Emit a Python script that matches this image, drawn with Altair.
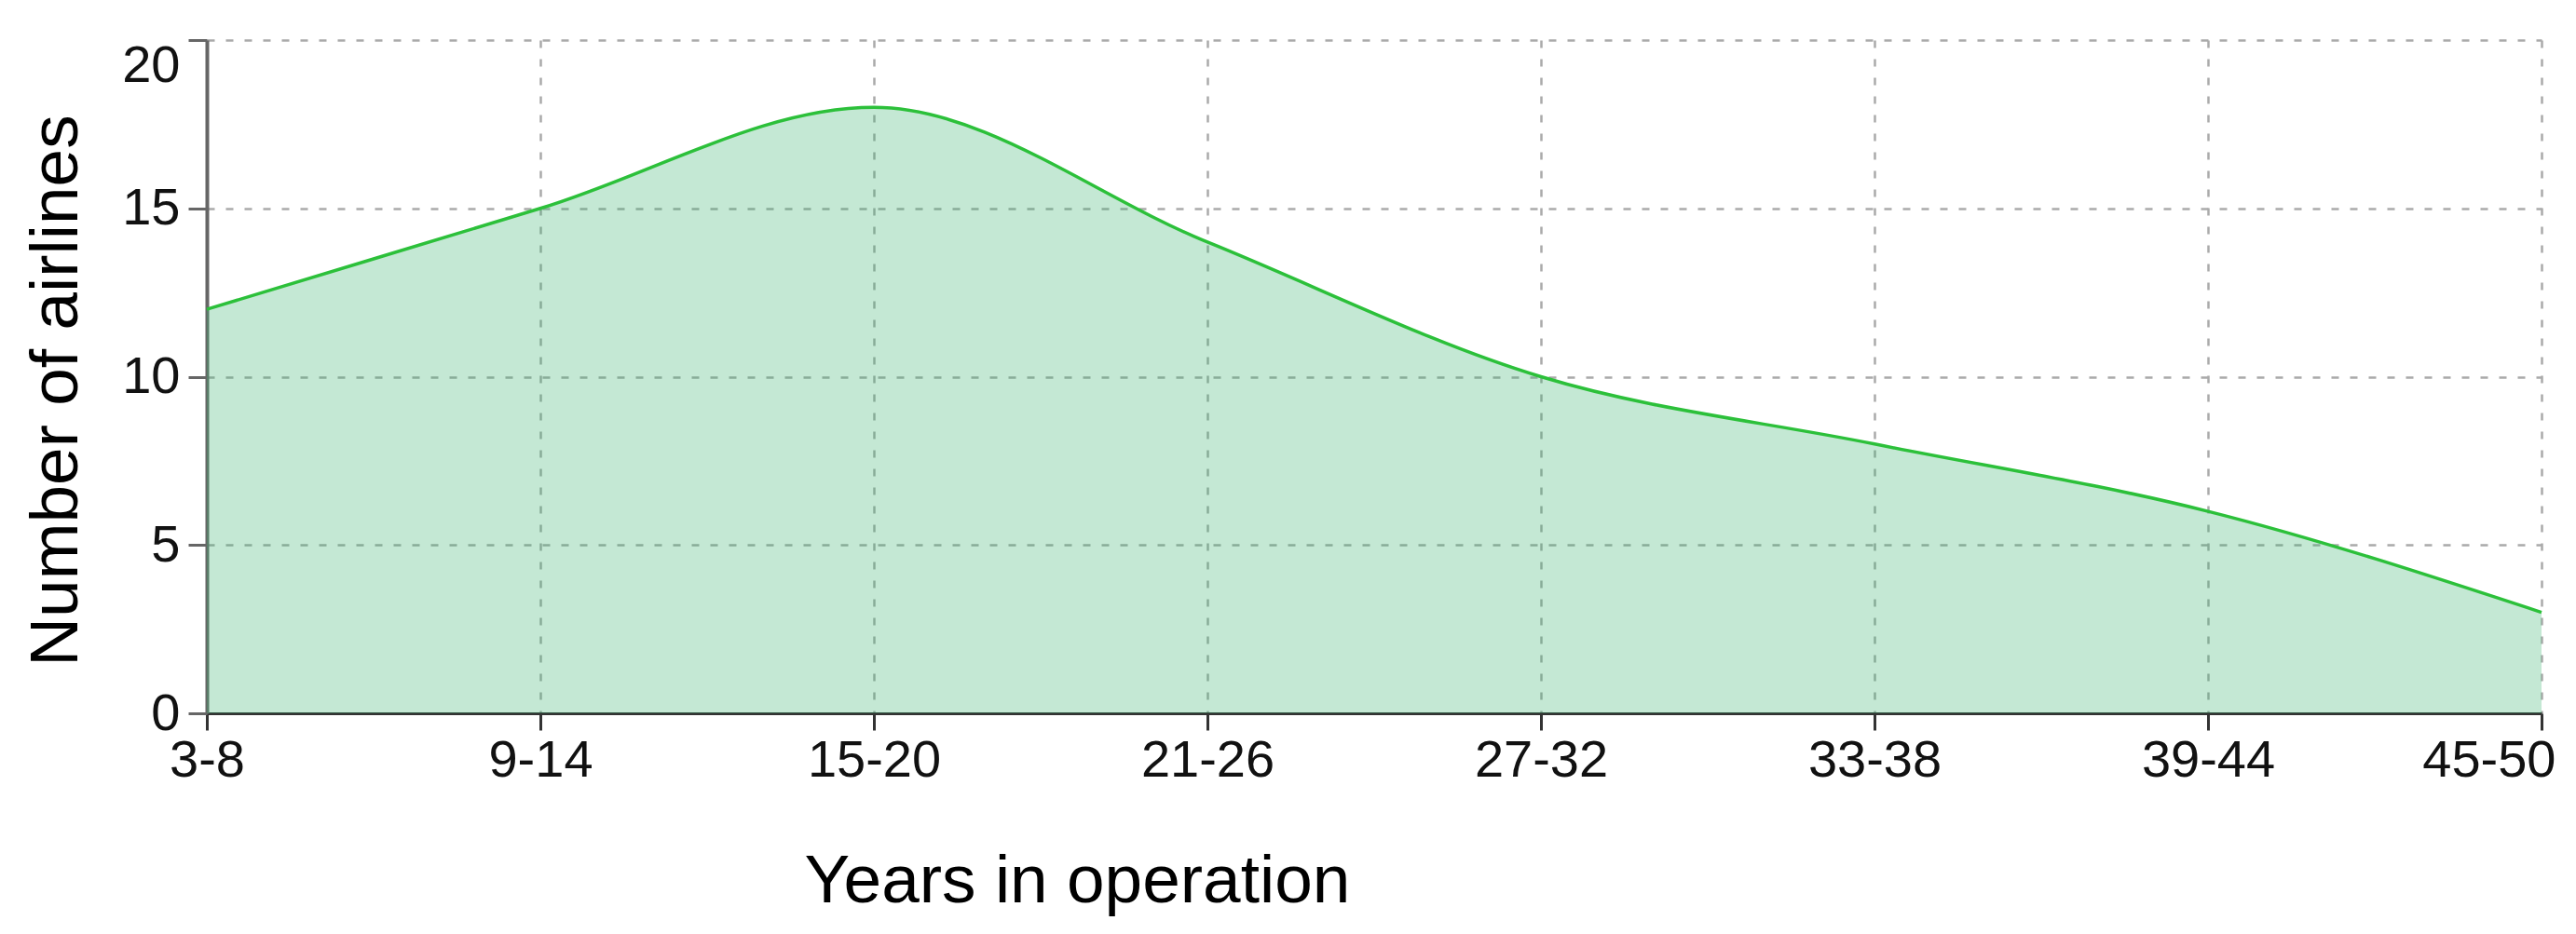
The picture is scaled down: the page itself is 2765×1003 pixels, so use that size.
import altair as alt
import pandas as pd

categories = ["3-8", "9-14", "15-20", "21-26", "27-32", "33-38", "39-44", "45-50"]
airlines = [12, 15, 18, 14, 10, 8, 6, 3]

df = pd.DataFrame({"years": categories, "count": airlines})

FONT = "Liberation Sans"

x_enc = alt.X(
    "years:N",
    sort=categories,
    scale=alt.Scale(type="point", padding=0),
    axis=alt.Axis(
        title="Years in operation",
        labelAngle=0,
        labelFont=FONT,
        labelFontSize=56,
        labelColor="#111111",
        labelPadding=5,
        labelAlign=alt.expr("datum.value == '45-50' ? 'right' : 'center'"),
        labelOffset=alt.expr("datum.value == '45-50' ? 15 : 0"),
        tickSize=18,
        tickWidth=3,
        tickColor="#333333",
        domainColor="#333333",
        domainWidth=3,
        grid=True,
        gridColor="#aaaaaa",
        gridDash=[8, 12],
        gridWidth=2.5,
        titleFont=FONT,
        titleFontSize=73,
        titleFontWeight="normal",
        titleColor="#000000",
        titleAlign="center",
        titleAnchor="start",
        titleBaseline="alphabetic",
        titleX=934,
        titleY=202,
    ),
)

y_enc = alt.Y(
    "count:Q",
    scale=alt.Scale(domain=[0, 20], nice=False),
    axis=alt.Axis(
        title="Number of airlines",
        values=[0, 5, 10, 15, 20],
        labelFont=FONT,
        labelFontSize=56,
        labelColor="#111111",
        labelPadding=9,
        labelBaseline=alt.expr("datum.value == 20 ? 'top' : 'middle'"),
        tickSize=20,
        tickWidth=3,
        tickColor="#666666",
        domainColor="#666666",
        domainWidth=4,
        grid=True,
        gridColor="#aaaaaa",
        gridDash=[8, 12],
        gridWidth=2.5,
        titleFont=FONT,
        titleFontSize=73,
        titleFontWeight="normal",
        titleColor="#000000",
        titleAlign="center",
        titleAngle=-90,
        titleBaseline="alphabetic",
        titleX=-140,
        titleY=376,
    ),
)

chart = (
    alt.Chart(df)
    .mark_area(
        interpolate="monotone",
        color="#3cb371",
        opacity=0.3,
        line={"color": "#2cc03a", "strokeWidth": 3.5, "opacity": 1},
    )
    .encode(x=x_enc, y=y_enc)
    .properties(
        width=2506,
        height=723,
        padding={"left": 214, "top": 35, "right": 29, "bottom": 228},
        autosize=alt.AutoSizeParams(type="none"),
        background="#ffffff",
    )
    .configure_view(stroke=None)
    .configure_axis(gridOpacity=1)
)

chart.save("out.html", embed_options={"renderer": "svg", "actions": False})
